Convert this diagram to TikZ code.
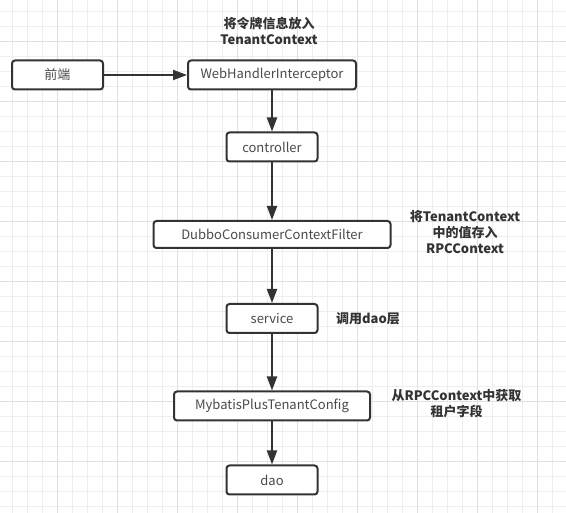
\documentclass[tikz,border=0pt]{standalone}
\usepackage{fontspec}
\setmainfont{Noto Sans CJK SC}
\usetikzlibrary{arrows.meta}

\definecolor{gridminor}{HTML}{EEEEEE}
\definecolor{gridmajor}{HTML}{E0E0E0}
\definecolor{ink}{HTML}{333333}
\definecolor{boxtext}{HTML}{4A4A4A}

\tikzset{
  stage/.style={draw=ink, line width=2pt, rounded corners=3pt, fill=white,
    text=boxtext, inner sep=0pt, minimum height=29pt,
    font=\fontsize{13}{16}\selectfont},
  note/.style={text=ink, align=center, inner sep=0pt,
    font=\fontsize{13}{16}\selectfont\bfseries},
  flow/.style={draw=ink, line width=2pt, -{Triangle[length=14pt,width=10pt]}},
}

\begin{document}
\begin{tikzpicture}[x=1pt,y=-1pt]
  \useasboundingbox (0,0) rectangle (566,513);
  \fill[white] (0,0) rectangle (566,513);
  % grid
  \foreach \gx in {12.3,27.3,...,566} \draw[gridminor,line width=1pt] (\gx,0) -- (\gx,513);
  \foreach \gy in {11.7,26.7,...,513} \draw[gridminor,line width=1pt] (0,\gy) -- (566,\gy);
  \foreach \gx in {57.3,117.3,...,566} \draw[gridmajor,line width=1pt] (\gx,0) -- (\gx,513);
  \foreach \gy in {41.7,101.7,...,513} \draw[gridmajor,line width=1pt] (0,\gy) -- (566,\gy);

  % boxes
  \node[stage, minimum width=91pt] (front) at (57.5,75) {前端};
  \node[stage, minimum width=168pt] (web) at (272,75) {WebHandlerInterceptor};
  \node[stage, minimum width=91pt] (ctrl) at (272,147) {controller};
  \node[stage, minimum width=237pt, minimum height=27pt] (dubbo) at (272,234.5) {DubboConsumerContextFilter};
  \node[stage, minimum width=91pt] (svc) at (272,318.5) {service};
  \node[stage, minimum width=196pt] (mybatis) at (272,406) {MybatisPlusTenantConfig};
  \node[stage, minimum width=91pt] (dao) at (272,480) {dao};

  % notes
  \node[note] (noteweb) at (269,30.5) {将令牌信息放入\\TenantContext};
  \node[note] (notedubbo) at (465,232.5) {将TenantContext\\中的值存入\\RPCContext};
  \node[note] (notesvc) at (368,319) {调用dao层};
  \node[note] (notemybatis) at (456.5,403.5) {从RPCContext中获取\\租户字段};

  % arrows
  \draw[flow] (front) -- (web);
  \draw[flow] (web) -- (ctrl);
  \draw[flow] (ctrl) -- (dubbo);
  \draw[flow] (dubbo) -- (svc);
  \draw[flow] (svc) -- (mybatis);
  \draw[flow] (mybatis) -- (dao);
\end{tikzpicture}
\end{document}
